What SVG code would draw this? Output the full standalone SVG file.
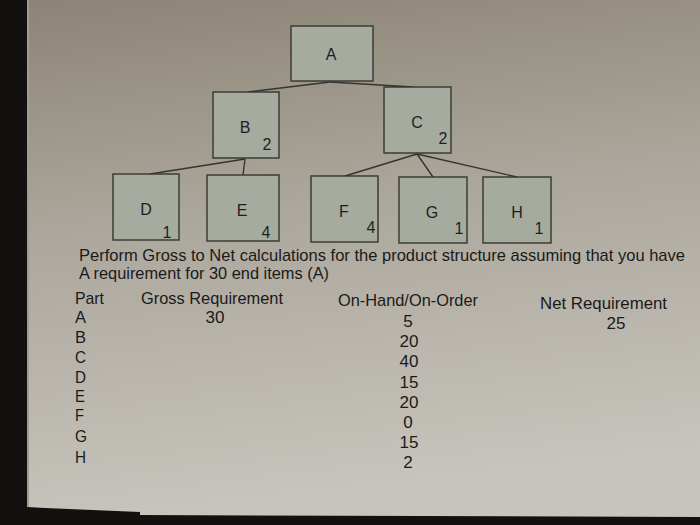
<svg xmlns="http://www.w3.org/2000/svg" width="700" height="525" viewBox="0 0 700 525">
<defs>
<linearGradient id="paper" x1="0" y1="0" x2="0.15" y2="1">
<stop offset="0" stop-color="#8c8476"/>
<stop offset="0.45" stop-color="#aca79c"/>
<stop offset="1" stop-color="#c7c4bd"/>
</linearGradient>
<style>
.box{fill:#a5ac9f;stroke:#35362f;stroke-width:1.4}
.lbl{font-family:"Liberation Sans",Arial,sans-serif;font-size:16px;fill:#1e1e1e;text-anchor:middle}
.qty{font-family:"Liberation Sans",Arial,sans-serif;font-size:16px;fill:#1e1e1e;text-anchor:middle}
.t{font-family:"Liberation Sans",Arial,sans-serif;font-size:17px;fill:#1a1a1a}
.c{text-anchor:middle}
.conn line{stroke:#35352f;stroke-width:1.4}
</style>
</defs>
<rect x="0" y="0" width="700" height="525" fill="#121110"/>
<polygon points="27,0 700,0 700,517 140,515 140,512 45,508 27,507" fill="url(#paper)"/>
<line x1="28" y1="0" x2="28" y2="507" stroke="#a19c92" stroke-width="2"/>
<g class="conn">
<line x1="330" y1="82" x2="248" y2="92"/>
<line x1="330" y1="82" x2="413" y2="87"/>
<line x1="245" y1="159" x2="150" y2="174"/>
<line x1="245" y1="159" x2="243" y2="175"/>
<line x1="417" y1="154" x2="345" y2="176"/>
<line x1="417" y1="154" x2="433" y2="177"/>
<line x1="417" y1="154" x2="517" y2="177"/>
</g>
<g id="nA" class="node"><rect class="box" x="291" y="26" width="82" height="55"/><text class="lbl" x="331" y="60">A</text></g>
<g id="nB" class="node"><rect class="box" x="213" y="92" width="66" height="66"/><text class="lbl" x="245" y="133">B</text><text class="qty" x="267" y="150">2</text></g>
<g id="nC" class="node"><rect class="box" x="384" y="87" width="67" height="66"/><text class="lbl" x="417" y="128">C</text><text class="qty" x="443" y="144">2</text></g>
<g id="nD" class="node"><rect class="box" x="113" y="174" width="66" height="66"/><text class="lbl" x="146" y="215">D</text><text class="qty" x="167" y="238">1</text></g>
<g id="nE" class="node"><rect class="box" x="207" y="175" width="72" height="66"/><text class="lbl" x="242" y="216">E</text><text class="qty" x="266" y="238">4</text></g>
<g id="nF" class="node"><rect class="box" x="311" y="176" width="67" height="66"/><text class="lbl" x="344" y="217">F</text><text class="qty" x="371" y="233">4</text></g>
<g id="nG" class="node"><rect class="box" x="399" y="177" width="68" height="66"/><text class="lbl" x="432" y="218">G</text><text class="qty" x="459" y="234">1</text></g>
<g id="nH" class="node"><rect class="box" x="483" y="177" width="68" height="66"/><text class="lbl" x="517" y="218">H</text><text class="qty" x="539" y="234">1</text></g>
<text class="t" x="79" y="261" font-size="15.5" textLength="606" lengthAdjust="spacingAndGlyphs">Perform Gross to Net calculations for the product structure assuming that you have</text>
<text class="t" x="79" y="279" textLength="250" lengthAdjust="spacingAndGlyphs">A requirement for 30 end items (A)</text>
<text class="t" x="75" y="304" textLength="29" lengthAdjust="spacingAndGlyphs">Part</text>
<text class="t" x="141" y="304" textLength="142" lengthAdjust="spacingAndGlyphs">Gross Requirement</text>
<text class="t" x="338" y="306" textLength="140" lengthAdjust="spacingAndGlyphs">On-Hand/On-Order</text>
<text class="t" x="540" y="309" textLength="127" lengthAdjust="spacingAndGlyphs">Net Requirement</text>
<g class="t">
<text x="75" y="323" textLength="11" lengthAdjust="spacingAndGlyphs">A</text>
<text x="75" y="343" textLength="11" lengthAdjust="spacingAndGlyphs">B</text>
<text x="75" y="363" textLength="11" lengthAdjust="spacingAndGlyphs">C</text>
<text x="75" y="383" textLength="11" lengthAdjust="spacingAndGlyphs">D</text>
<text x="75" y="402" textLength="10" lengthAdjust="spacingAndGlyphs">E</text>
<text x="75" y="421" textLength="9" lengthAdjust="spacingAndGlyphs">F</text>
<text x="75" y="442" textLength="12" lengthAdjust="spacingAndGlyphs">G</text>
<text x="75" y="463" textLength="11" lengthAdjust="spacingAndGlyphs">H</text>
</g>
<text class="t c" x="215" y="323">30</text>
<g class="t c">
<text x="408" y="327">5</text>
<text x="409" y="347">20</text>
<text x="409" y="367">40</text>
<text x="409" y="388">15</text>
<text x="409" y="408">20</text>
<text x="408" y="428">0</text>
<text x="409" y="448">15</text>
<text x="408" y="468">2</text>
</g>
<text class="t c" x="616" y="329">25</text>
</svg>
